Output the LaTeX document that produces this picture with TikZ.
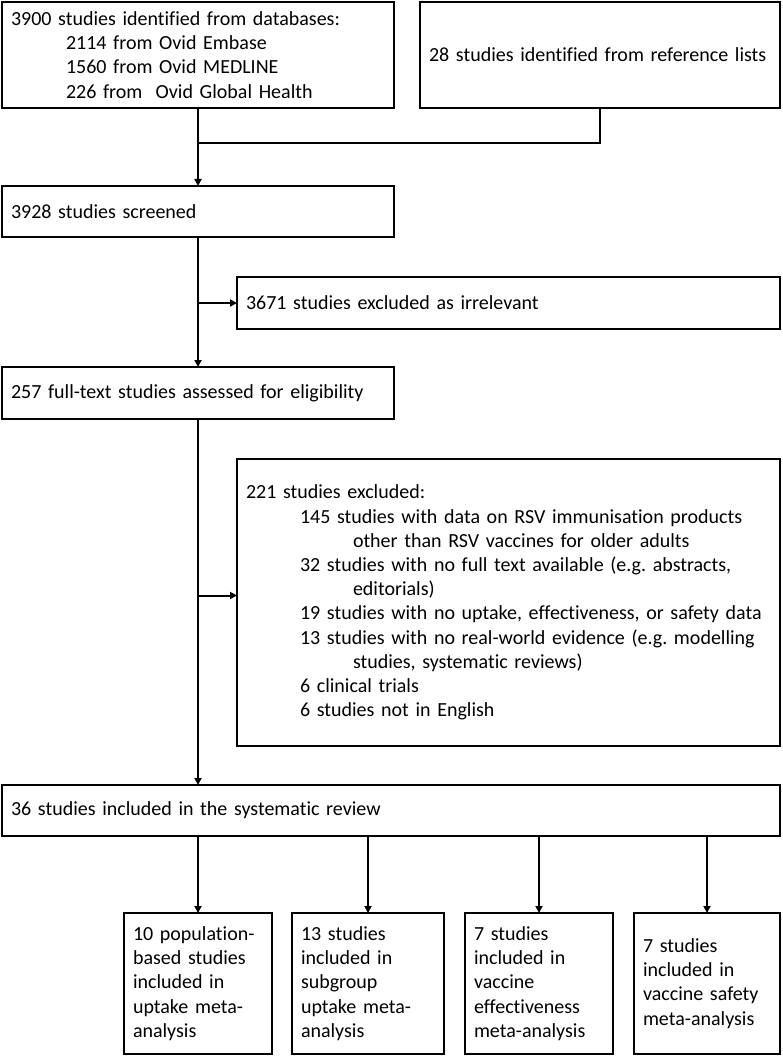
\documentclass[tikz,border=0pt]{standalone}
\usepackage{fontspec}
\setmainfont{Carlito}[Ligatures={NoCommon,NoRequired,NoContextual}]
\usetikzlibrary{arrows.meta}
\frenchspacing
\begin{document}
\begin{tikzpicture}[x=1pt,y=-1pt,
  box/.style={draw, line width=2pt, rectangle, anchor=north west, align=left,
    inner xsep=9pt, inner ysep=0pt, outer sep=0pt,
    font=\fontsize{20}{24.2}\selectfont},
  link/.style={line width=2pt},
  arr/.style={line width=2pt, -{Triangle[length=7pt,width=7pt]}}]
\useasboundingbox (0,0) rectangle (782,1056);
\fill[white] (0,0) rectangle (782,1056);
% boxes
\node[box, minimum width=392pt, minimum height=106pt, text width=374pt] (a) at (2,2)
  {3900 studies identified from databases:\\
   \hspace*{55pt}2114 from Ovid Embase\\
   \hspace*{55pt}1560 from Ovid MEDLINE\\
   \hspace*{55pt}226 from\ \ Ovid Global Health};
\node[box, minimum width=360pt, minimum height=106pt, text width=342pt] (b) at (420,2)
  {28 studies identified from reference lists};
\node[box, minimum width=392pt, minimum height=51pt, text width=374pt] (c) at (2,186)
  {3928 studies screened};
\node[box, minimum width=543pt, minimum height=52pt, text width=525pt] (d) at (237,277)
  {3671 studies excluded as irrelevant};
\node[box, minimum width=392pt, minimum height=52pt, text width=374pt] (e) at (2,367)
  {257 full-text studies assessed for eligibility};
\node[box, minimum width=543pt, minimum height=287pt, text width=525pt] (f) at (237,459)
  {221 studies excluded:\\
   \hspace*{54pt}145 studies with data on RSV immunisation products\\
   \hspace*{107pt}other than RSV vaccines for older adults\\
   \hspace*{54pt}32 studies with no full text available (e.g.\ abstracts,\\
   \hspace*{107pt}editorials)\\
   \hspace*{54pt}19 studies with no uptake, effectiveness, or safety data\\
   \hspace*{54pt}13 studies with no real-world evidence (e.g.\ modelling\\
   \hspace*{107pt}studies, systematic reviews)\\
   \hspace*{54pt}6 clinical trials\\
   \hspace*{54pt}6 studies not in English};
\node[box, minimum width=778pt, minimum height=51pt, text width=760pt] (g) at (2,785)
  {36 studies included in the systematic review};
\node[box, minimum width=148pt, minimum height=141pt, text width=130pt] (h1) at (124,913)
  {10 population-\\based studies\\included in\\uptake meta-\\analysis};
\node[box, minimum width=152pt, minimum height=141pt, text width=134pt] (h2) at (292,913)
  {13 studies\\included in\\subgroup\\uptake meta-\\analysis};
\node[box, minimum width=148pt, minimum height=141pt, text width=130pt] (h3) at (465,913)
  {7 studies\\included in\\vaccine\\effectiveness\\meta-analysis};
\node[box, minimum width=146pt, minimum height=141pt, text width=128pt] (h4) at (634,913)
  {7 studies\\included in\\vaccine safety\\meta-analysis};
% connectors
\coordinate (j) at ([yshift=-35pt]a.south);
\draw[link] (a.south) -- (j);
\draw[link] (b.south) |- (j);
\draw[arr] (j) -- (c.north);
\draw[arr] (c.south) -- (e.north);
\draw[arr] (c.south |- d.west) -- (d.west);
\draw[arr] (e.south) -- (g.north -| e.south);
\draw[arr] ([yshift=7pt]f.west -| e.south) -- ([yshift=7pt]f.west);
\draw[arr] (g.south -| h1.north) -- (h1.north);
\draw[arr] (g.south -| h2.north) -- (h2.north);
\draw[arr] (g.south -| h3.north) -- (h3.north);
\draw[arr] (g.south -| h4.north) -- (h4.north);
\end{tikzpicture}
\end{document}
